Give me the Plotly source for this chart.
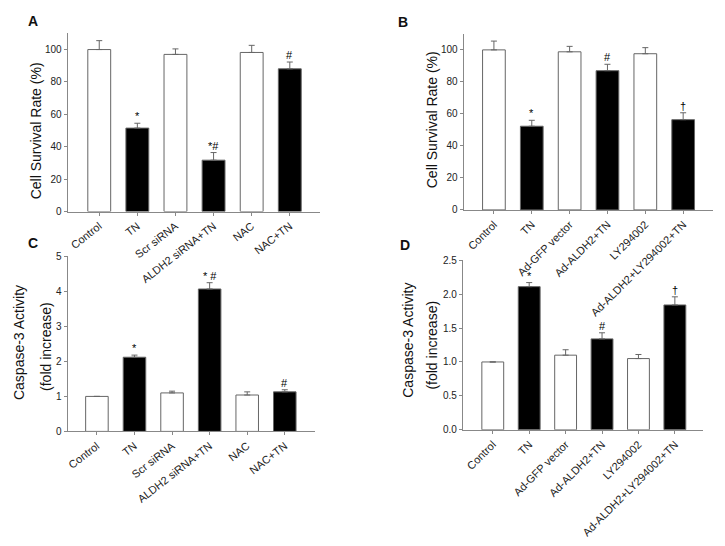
import plotly.graph_objects as go

# ---------------- data ----------------
cats_A = ["Control", "TN", "Scr siRNA", "ALDH2 siRNA+TN", "NAC", "NAC+TN"]
surv_A = [100, 51.5, 97, 31.7, 98.2, 88.1]
surv_A_err = [5.5, 3.0, 3.4, 4.7, 4.4, 4.2]
sig_A = ["", "*", "", "*#", "", "#"]

cats_B = ["Control", "TN", "Ad-GFP vector", "Ad-ALDH2+TN", "LY294002", "Ad-ALDH2+LY294002+TN"]
surv_B = [100, 52.3, 98.8, 87.0, 97.6, 56.4]
surv_B_err = [5.5, 3.7, 3.4, 4.0, 3.8, 4.3]
sig_B = ["", "*", "", "#", "", "†"]

casp_C = [1.0, 2.12, 1.10, 4.07, 1.04, 1.13]
casp_C_err = [0.0, 0.06, 0.05, 0.18, 0.09, 0.06]
sig_C = ["", "*", "", "* #", "", "#"]

casp_D = [1.0, 2.11, 1.10, 1.34, 1.05, 1.84]
casp_D_err = [0.0, 0.06, 0.08, 0.09, 0.06, 0.12]
sig_D = ["", "*", "", "#", "", "†"]

treated = [False, True, False, True, False, True]

FONT = "Arial, Liberation Sans, sans-serif"
fills = ["#000000" if t else "#ffffff" for t in treated]

panels = [
    dict(x=cats_A, y=surv_A, e=surv_A_err, sig=sig_A, ax="", yr=[0, 110], dt=20, fmt="",
         xd=[0.092, 0.441], yd=[0.614, 0.947], xr=[-0.83, 5.8], ang=-38),
    dict(x=cats_B, y=surv_B, e=surv_B_err, sig=sig_B, ax="2", yr=[0, 110], dt=20, fmt="",
         xd=[0.639, 0.983], yd=[0.617, 0.946], xr=[-0.8, 5.78], ang=-45),
    dict(x=cats_A, y=casp_C, e=casp_C_err, sig=sig_C, ax="3", yr=[0, 5], dt=1, fmt="",
         xd=[0.092, 0.434], yd=[0.203, 0.530], xr=[-0.78, 5.81], ang=-38),
    dict(x=cats_B, y=casp_D, e=casp_D_err, sig=sig_D, ax="4", yr=[0, 2.5], dt=0.5, fmt=".1f",
         xd=[0.638, 0.970], yd=[0.206, 0.523], xr=[-0.82, 5.78], ang=-45),
]

fig = go.Figure()
annotations = []
for p in panels:
    xa = "x" + p["ax"]
    ya = "y" + p["ax"]
    fig.add_trace(go.Bar(
        x=p["x"], y=p["y"], xaxis=xa, yaxis=ya,
        marker=dict(color=fills, line=dict(color="#666666", width=1)),
        error_y=dict(type="data", symmetric=False, array=p["e"], arrayminus=[0] * len(p["e"]),
                     color="#666666", thickness=1, width=3),
        showlegend=False,
    ))
    for c, v, e, s in zip(p["x"], p["y"], p["e"], p["sig"]):
        if s:
            annotations.append(dict(x=c, y=v + e, xref=xa, yref=ya, text=s, showarrow=False,
                                    yanchor="bottom", yshift=-1,
                                    font=dict(family=FONT, size=11, color="black")))
    axis_common = dict(showline=True, linecolor="#888888", linewidth=1, ticks="outside",
                       ticklen=3, tickcolor="#888888", showgrid=False, zeroline=False,
                       tickfont=dict(family=FONT, size=10, color="#222"))
    fig.layout["xaxis" + p["ax"]] = dict(domain=p["xd"], anchor=ya, range=p["xr"],
                                         tickangle=p["ang"], type="category",
                                         **{**axis_common, "tickfont": dict(family=FONT, size=11, color="#222")})
    fig.layout["yaxis" + p["ax"]] = dict(domain=p["yd"], anchor=xa, range=p["yr"], dtick=p["dt"],
                                         tick0=0, tickformat=p["fmt"], **axis_common)

# y-axis titles
title_font = dict(family=FONT, size=14, color="#111")
for txt, xp, yp in [("Cell Survival Rate (%)", 35, 128),
                    ("Cell Survival Rate (%)", 431.7, 117.5),
                    ("Caspase-3 Activity", 18, 344),
                    ("(fold increase)", 45, 348),
                    ("Caspase-3 Activity", 406.7, 342.5),
                    ("(fold increase)", 431.7, 347.5)]:
    annotations.append(dict(text=txt, x=xp / 725, y=1 - yp / 546, xref="paper", yref="paper",
                            textangle=-90, showarrow=False, xanchor="center", yanchor="middle",
                            font=title_font))

# panel letters
for txt, xp, yp in [("A", 31.7, 16.7), ("B", 403, 17), ("C", 32, 243), ("D", 405, 245)]:
    annotations.append(dict(text="<b>%s</b>" % txt, x=xp / 725, y=1 - yp / 546, xref="paper",
                            yref="paper", showarrow=False, xanchor="center", yanchor="middle",
                            font=dict(family=FONT, size=14, color="#111")))

fig.update_layout(width=725, height=546, margin=dict(l=0, r=0, t=0, b=0),
                  paper_bgcolor="white", plot_bgcolor="white", bargap=0.4,
                  annotations=annotations, font=dict(family=FONT))

fig.write_html("out.html", config={"displayModeBar": False},
               post_script="document.body.style.margin='0';")
